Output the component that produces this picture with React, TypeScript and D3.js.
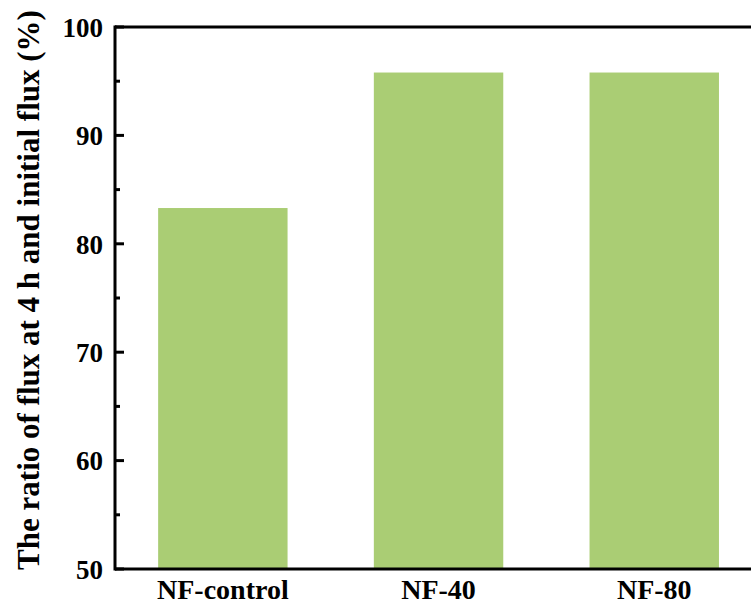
import React from "react";
import * as d3 from "d3";

const categories = ["NF-control", "NF-40", "NF-80"];
const values = [83.3, 95.8, 95.8];
const majorTicks = [50, 60, 70, 80, 90, 100];
const minorTicks = [55, 65, 75, 85, 95];
const yTitle = "The ratio of flux at 4 h and initial flux (%)";

export default function App() {
  const W = 751, H = 605;
  const left = 115, top = 27, bottom = 569;
  const right = left + 3 * 215.7;
  const x = d3.scaleBand<string>().domain(categories).range([left, right]).paddingInner(0.4).paddingOuter(0.2);
  const y = d3.scaleLinear().domain([50, 100]).range([bottom, top]);
  const font = "'Liberation Serif', 'Times New Roman', serif";
  return (
    <svg width={W} height={H} style={{ position: "fixed", left: 0, top: 0, background: "#fff" }}>
      {categories.map((c, i) => (
        <rect key={c} x={x(c)} y={y(values[i])} width={x.bandwidth()} height={y(50) - y(values[i])} fill="#aacd74" />
      ))}
      <line x1={left} x2={W} y1={y(100)} y2={y(100)} stroke="#000" strokeWidth={3} />
      <line x1={left} x2={W} y1={y(50)} y2={y(50)} stroke="#000" strokeWidth={3} />
      <line x1={left} x2={left} y1={y(100) - 1.5} y2={y(50) + 1.5} stroke="#000" strokeWidth={3} />
      {majorTicks.map((t) => (
        <g key={t}>
          <line x1={left} x2={left + 9} y1={y(t)} y2={y(t)} stroke="#000" strokeWidth={3} />
          <text x={103} y={y(t)} dy="0.36em" textAnchor="end" fontFamily={font} fontWeight="bold" fontSize={27}>{t}</text>
        </g>
      ))}
      {minorTicks.map((t) => (
        <line key={t} x1={left} x2={left + 5} y1={y(t)} y2={y(t)} stroke="#000" strokeWidth={3} />
      ))}
      {categories.map((c) => (
        <text key={c} x={(x(c) as number) + x.bandwidth() / 2} y={599} textAnchor="middle" fontFamily={font} fontWeight="bold" fontSize={28}>{c}</text>
      ))}
      <text transform={`translate(39,290) rotate(-90)`} textAnchor="middle" fontFamily={font} fontWeight="bold" fontSize={31}>{yTitle}</text>
    </svg>
  );
}
